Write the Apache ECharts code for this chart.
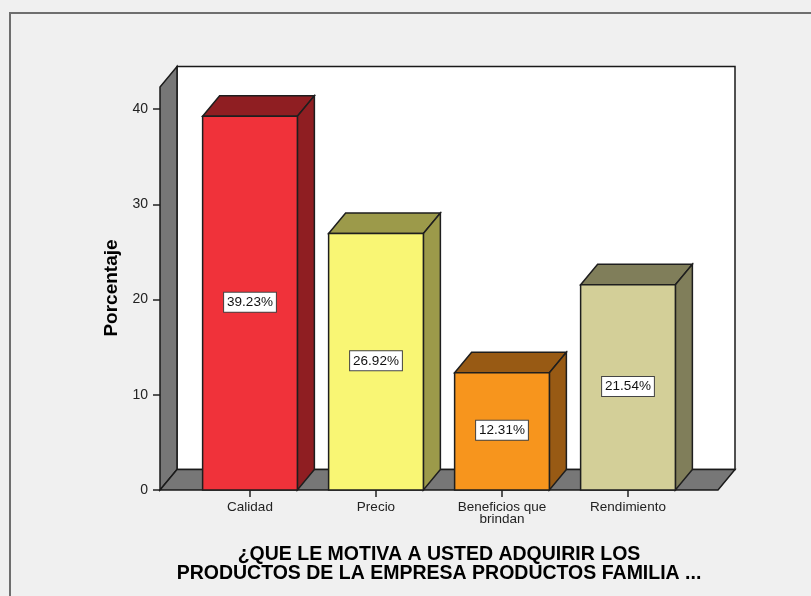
<!DOCTYPE html>
<html>
<head>
<meta charset="utf-8">
<script src="https://cdn.jsdelivr.net/npm/echarts@6/dist/echarts.min.js"></script>
<style>
html,body{margin:0;padding:0;background:#f0f0f0;}
#chart{width:811px;height:596px;}
</style>
</head>
<body>
<div id="chart"></div>
<script>
const categories = ['Calidad', 'Precio', 'Beneficios que\nbrindan', 'Rendimiento'];
const percentages = [39.23, 26.92, 12.31, 21.54];
const frontColors = ['#f0323a', '#f9f674', '#f7951d', '#d3cf98'];
const sideColors = ['#8f1e22', '#9c9a4a', '#985a14', '#807e5a'];
const yAxisTitle = 'Porcentaje';
const xAxisTitle = '¿QUE LE MOTIVA A USTED ADQUIRIR LOS\nPRODUCTOS DE LA EMPRESA PRODUCTOS FAMILIA ...';
const wallTopValue = 42.3;

const DX = 17, DY = -20.5;
const AXIS_OFFSET = 27;

const chart = echarts.init(document.getElementById('chart'), null, {renderer: 'canvas'});

function renderWalls(params, api) {
  const cs = params.coordSys;
  const L = cs.x - AXIS_OFFSET;
  const R = cs.x + cs.width + AXIS_OFFSET;
  const base = api.coord([0, 0])[1];
  const top = api.coord([0, wallTopValue])[1];
  const stroke = {stroke: '#1a1a1a', lineWidth: 1.5};
  return {
    type: 'group',
    children: [
      {type: 'polygon', shape: {points: [[L + DX, top + DY], [R + DX, top + DY], [R + DX, base + DY], [L + DX, base + DY]]},
       style: Object.assign({fill: '#ffffff'}, stroke)},
      {type: 'polygon', shape: {points: [[L, base], [L, top], [L + DX, top + DY], [L + DX, base + DY]]},
       style: Object.assign({fill: '#777777'}, stroke)},
      {type: 'polygon', shape: {points: [[L, base], [R, base], [R + DX, base + DY], [L + DX, base + DY]]},
       style: Object.assign({fill: '#777777'}, stroke)}
    ]
  };
}

function renderBar(params, api) {
  const idx = api.value(0);
  const val = api.value(1);
  const c = api.coord([idx, val]);
  const b = api.coord([idx, 0]);
  const bw = api.size([1, 0])[0] * 0.752;
  const x0 = c[0] - bw / 2, x1 = c[0] + bw / 2;
  const yT = c[1], yB = b[1];
  const stroke = '#1e1e1e';
  return {
    type: 'group',
    children: [
      {type: 'polygon', shape: {points: [[x0, yT], [x0 + DX, yT + DY], [x1 + DX, yT + DY], [x1, yT]]},
       style: {fill: sideColors[idx], stroke: stroke, lineWidth: 1.5}},
      {type: 'polygon', shape: {points: [[x1, yT], [x1 + DX, yT + DY], [x1 + DX, yB + DY], [x1, yB]]},
       style: {fill: sideColors[idx], stroke: stroke, lineWidth: 1.5}},
      {type: 'rect', shape: {x: x0, y: yT, width: bw, height: yB - yT},
       style: {fill: frontColors[idx], stroke: stroke, lineWidth: 1.5}},
      {type: 'text', x: c[0], y: (yT + yB) / 2 - 1,
       style: {text: val.toFixed(2) + '%', align: 'center', verticalAlign: 'middle',
               font: '13.5px "Liberation Sans", Arial, sans-serif', fill: '#111',
               backgroundColor: '#ffffff', borderColor: '#444', borderWidth: 1, padding: [3, 3, 2, 3]}}
    ]
  };
}

const option = {
  backgroundColor: '#f0f0f0',
  animation: false,
  grid: {left: 187, right: 120, top: 109, bottom: 106},
  xAxis: {
    type: 'category',
    data: categories,
    axisLine: {show: false},
    axisTick: {show: true, alignWithLabel: true, length: 7, lineStyle: {color: '#222', width: 1.5}},
    axisLabel: {color: '#222', fontSize: 13.5, fontFamily: '"Liberation Sans", Arial, sans-serif', margin: 11, lineHeight: 12},
    splitLine: {show: false}
  },
  yAxis: {
    type: 'value',
    min: 0, max: 40, interval: 10,
    offset: AXIS_OFFSET,
    axisLine: {show: false},
    axisTick: {show: true, length: 7, lineStyle: {color: '#222', width: 1.5}},
    axisLabel: {color: '#222', fontSize: 14, fontFamily: '"Liberation Sans", Arial, sans-serif', margin: 12},
    splitLine: {show: false}
  },
  graphic: [
    {type: 'rect', shape: {x: 10, y: 13, width: 830, height: 620}, style: {fill: 'none', stroke: '#6e6e6e', lineWidth: 2}, z: 0},
    {type: 'text', x: 112, y: 288, rotation: Math.PI / 2,
     style: {text: yAxisTitle, align: 'center', verticalAlign: 'middle', font: 'bold 19px "Liberation Sans", Arial, sans-serif', fill: '#000'}},
    {type: 'text', x: 439, y: 564,
     style: {text: xAxisTitle, align: 'center', verticalAlign: 'middle', lineHeight: 18.5, font: 'bold 19.5px "Liberation Sans", Arial, sans-serif', fill: '#000'}}
  ],
  series: [
    {type: 'custom', renderItem: renderWalls, data: [[0, 0]], z: 1, silent: true},
    {type: 'custom', renderItem: renderBar, data: percentages.map((v, i) => [i, v]), z: 2, clip: false}
  ]
};
chart.setOption(option);
</script>
</body>
</html>
